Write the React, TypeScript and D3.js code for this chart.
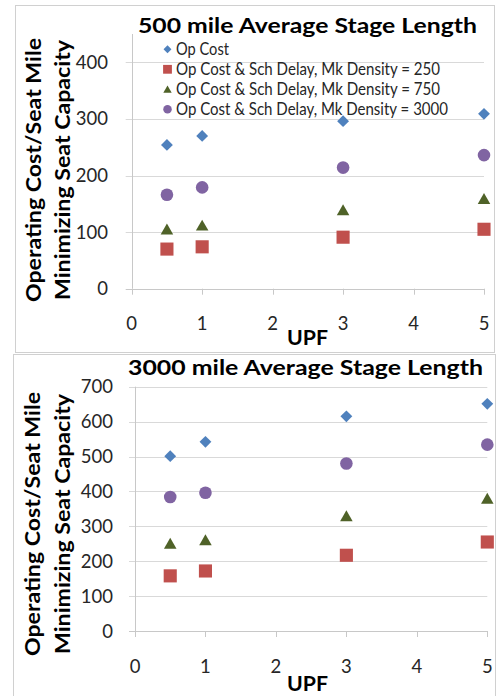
import React from "react";
import * as d3 from "d3";

// ---- data ----
const upf = [0.5, 1, 3, 5];
const seriesNames = [
  "Op Cost",
  "Op Cost & Sch Delay, Mk Density = 250",
  "Op Cost & Sch Delay, Mk Density = 750",
  "Op Cost & Sch Delay, Mk Density = 3000",
];
const xTicks = [0, 1, 2, 3, 4, 5];
const yTicks500 = [0, 100, 200, 300, 400];
const yTicks3000 = [0, 100, 200, 300, 400, 500, 600, 700];

const opCost500 = [254, 270, 296, 309];
const delay250_500 = [70, 74, 91, 105];
const delay750_500 = [104, 111, 138, 158];
const delay3000_500 = [166, 179, 214, 236];

const opCost3000 = [501, 542, 615, 651];
const delay250_3000 = [158, 172, 217, 255];
const delay750_3000 = [249, 259, 328, 378];
const delay3000_3000 = [384, 396, 480, 534];

const title500 = "500 mile Average Stage Length";
const title3000 = "3000 mile Average Stage Length";
const yLabel1 = "Operating Cost/Seat Mile";
const yLabel2 = "Minimizing Seat Capacity";
const xLabel = "UPF";

// ---- styles ----
const colors = ["#4F81BD", "#C0504D", "#4F6228", "#8064A2"];
const FONT = "Lato, 'Open Sans', 'DejaVu Sans', sans-serif";

type Shape = "diamond" | "square" | "triangle" | "circle";
const shapes: Shape[] = ["diamond", "square", "triangle", "circle"];

function symbolPath(shape: Shape, scale: number): string {
  switch (shape) {
    case "diamond":
      return d3.symbol(d3.symbolSquare, 70 * scale)()!;
    case "square":
      return d3.symbol(d3.symbolSquare, 172 * scale)()!;
    case "triangle":
      return d3.symbol(d3.symbolTriangle, 68 * scale)()!;
    default:
      return d3.symbol(d3.symbolCircle, 125 * scale)()!;
  }
}

function Marker({ shape, x, y, color, scale = 1 }: { shape: Shape; x: number; y: number; color: string; scale?: number }) {
  const rot = shape === "diamond" ? " rotate(45)" : "";
  const dy = shape === "triangle" ? 1 : 0;
  return <path d={symbolPath(shape, scale)} transform={`translate(${x},${y + dy})${rot}`} fill={color} />;
}

interface PanelCfg {
  frame: { x: number; y: number; w: number; h: number };
  plot: { x0: number; x1: number; yTop: number; yBottom: number };
  yMax: number;
  yTicks: number[];
  series: number[][];
  title: string;
  titleX: number;
  titleY: number;
  titleW: number;
  yLab1X: number;
  yLab2X: number;
  yLabCY: number;
  tickRight: number;
  xTickY: number;
  xLabY: number;
  legend: boolean;
}

const panels: PanelCfg[] = [
  {
    frame: { x: 15, y: 5, w: 479, h: 347 },
    plot: { x0: 131.7, x1: 484, yTop: 34, yBottom: 288.7 },
    yMax: 450,
    yTicks: yTicks500,
    series: [opCost500, delay250_500, delay750_500, delay3000_500],
    title: title500,
    titleX: 307.5,
    titleY: 33,
    titleW: 339,
    yLab1X: 41,
    yLab2X: 70,
    yLabCY: 170,
    tickRight: 108,
    xTickY: 330,
    xLabY: 345,
    legend: true,
  },
  {
    frame: { x: 13, y: 354, w: 482, h: 360 },
    plot: { x0: 135, x1: 487.3, yTop: 386.7, yBottom: 631 },
    yMax: 700,
    yTicks: yTicks3000,
    series: [opCost3000, delay250_3000, delay750_3000, delay3000_3000],
    title: title3000,
    titleX: 305.5,
    titleY: 375,
    titleW: 355,
    yLab1X: 40,
    yLab2X: 70,
    yLabCY: 524,
    tickRight: 113,
    xTickY: 673,
    xLabY: 691,
    legend: false,
  },
];

const legendWidths = [53, 264, 264, 272];

function Panel({ cfg }: { cfg: PanelCfg }) {
  const x = d3.scaleLinear().domain([0, 5]).range([cfg.plot.x0, cfg.plot.x1]);
  const y = d3.scaleLinear().domain([0, cfg.yMax]).range([cfg.plot.yBottom, cfg.plot.yTop]);
  const f = cfg.frame;
  return (
    <g>
      <rect x={f.x + 0.5} y={f.y + 0.5} width={f.w} height={f.h} fill="#fff" stroke="#D0D0D0" />
      {cfg.yTicks.map((t) => (
        <line key={t} x1={x(0) - 6} x2={x(5)} y1={Math.round(y(t)) + 0.5} y2={Math.round(y(t)) + 0.5}
          stroke={t === 0 ? "#C8C8C8" : "#D9D9D9"} strokeWidth={1} />
      ))}
      <line x1={Math.round(x(0)) + 0.5} x2={Math.round(x(0)) + 0.5} y1={y(cfg.yMax)} y2={y(0)} stroke="#C8C8C8" />
      {xTicks.map((t) => (
        <line key={t} x1={Math.round(x(t)) + 0.5} x2={Math.round(x(t)) + 0.5} y1={y(0)} y2={y(0) + 6} stroke="#C8C8C8" />
      ))}
      {cfg.yTicks.map((t) => (
        <text key={t} x={cfg.tickRight} y={y(t) + 6.5} textAnchor="end" fontFamily={FONT} fontSize={18.5} fill="#262626">
          {t}
        </text>
      ))}
      {xTicks.map((t) => (
        <text key={t} x={x(t)} y={cfg.xTickY} textAnchor="middle" fontFamily={FONT} fontSize={18.5} fill="#262626">
          {t}
        </text>
      ))}
      <text x={cfg.titleX} y={cfg.titleY} textAnchor="middle" fontFamily={FONT} fontWeight="bold" fontSize={21}
        textLength={cfg.titleW} lengthAdjust="spacingAndGlyphs" fill="#000">
        {cfg.title}
      </text>
      <text x={307.5} y={cfg.xLabY} textAnchor="middle" fontFamily={FONT} fontWeight="bold" fontSize={21}
        textLength={41} lengthAdjust="spacingAndGlyphs" fill="#000">
        {xLabel}
      </text>
      <text transform={`translate(${cfg.yLab1X},${cfg.yLabCY}) rotate(-90)`} textAnchor="middle" fontFamily={FONT}
        fontWeight="bold" fontSize={21} textLength={264} lengthAdjust="spacingAndGlyphs" fill="#000">
        {yLabel1}
      </text>
      <text transform={`translate(${cfg.yLab2X},${cfg.yLabCY}) rotate(-90)`} textAnchor="middle" fontFamily={FONT}
        fontWeight="bold" fontSize={21} textLength={260} lengthAdjust="spacingAndGlyphs" fill="#000">
        {yLabel2}
      </text>
      {cfg.series.map((vals, si) =>
        vals.map((v, i) => (
          <Marker key={`${si}-${i}`} shape={shapes[si]} x={x(upf[i])} y={y(v)} color={colors[si]} />
        ))
      )}
      {cfg.legend &&
        seriesNames.map((name, si) => {
          const cy = 49.3 + si * 20;
          return (
            <g key={name}>
              <Marker shape={shapes[si]} x={167.5} y={cy} color={colors[si]} scale={0.45} />
              <text x={176} y={cy + 5.8} fontFamily={FONT} fontSize={16.5} fill="#262626"
                textLength={legendWidths[si]} lengthAdjust="spacingAndGlyphs">
                {name}
              </text>
            </g>
          );
        })}
    </g>
  );
}

export default function App() {
  return (
    <svg width={496} height={696} style={{ position: "absolute", left: 0, top: 0, background: "#fff" }}>
      <rect x={0} y={0} width={496} height={696} fill="#fff" />
      {panels.map((p, i) => (
        <Panel key={i} cfg={p} />
      ))}
    </svg>
  );
}
